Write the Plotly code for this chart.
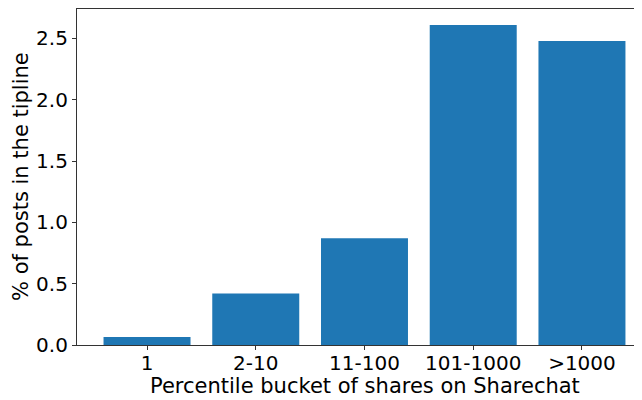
import plotly.graph_objects as go

categories = ["1", "2-10", "11-100", "101-1000", ">1000"]
values = [0.065, 0.42, 0.87, 2.61, 2.48]
x_title = "Percentile bucket of shares on Sharechat"
y_title = "% of posts in the tipline"

fig = go.Figure(go.Bar(x=list(range(len(categories))), y=values, width=0.8,
                       marker=dict(color="#1f77b4", line=dict(width=0))))

# page body has an 8px default margin, so the figure is sized to fill the rest
font = dict(family="DejaVu Sans", size=20, color="#000000")
fig.update_layout(
    width=634, height=392,
    margin=dict(l=69, r=1, t=1, b=55, autoexpand=False),
    plot_bgcolor="white", paper_bgcolor="white",
    font=font, showlegend=False,
)
fig.update_xaxes(
    range=[-0.644, 4.543], tickmode="array",
    tickvals=list(range(len(categories))), ticktext=categories,
    showgrid=False, zeroline=False, automargin=False,
    showline=True, linecolor="#333333", linewidth=1.2, mirror=True,
    ticks="outside", ticklen=4, tickcolor="#333333", ticklabelstandoff=-4,
)
fig.update_yaxes(
    range=[0, 2.74], tickvals=[0, 0.5, 1.0, 1.5, 2.0, 2.5],
    ticktext=["0.0", "0.5", "1.0", "1.5", "2.0", "2.5"],
    showgrid=False, zeroline=False, automargin=False,
    showline=True, linecolor="#333333", linewidth=1.2, mirror=True,
    ticks="outside", ticklen=4, tickcolor="#333333",
)
fig.add_annotation(text=x_title, xref="paper", yref="paper", x=0.51, y=0,
                   xanchor="center", yanchor="middle", yshift=-41, showarrow=False,
                   font=dict(size=21))
fig.add_annotation(text=y_title, xref="paper", yref="paper", x=0, y=0.5,
                   xanchor="center", yanchor="middle", xshift=-56, textangle=-90,
                   showarrow=False, font=dict(size=21))
fig.write_html("out.html")
